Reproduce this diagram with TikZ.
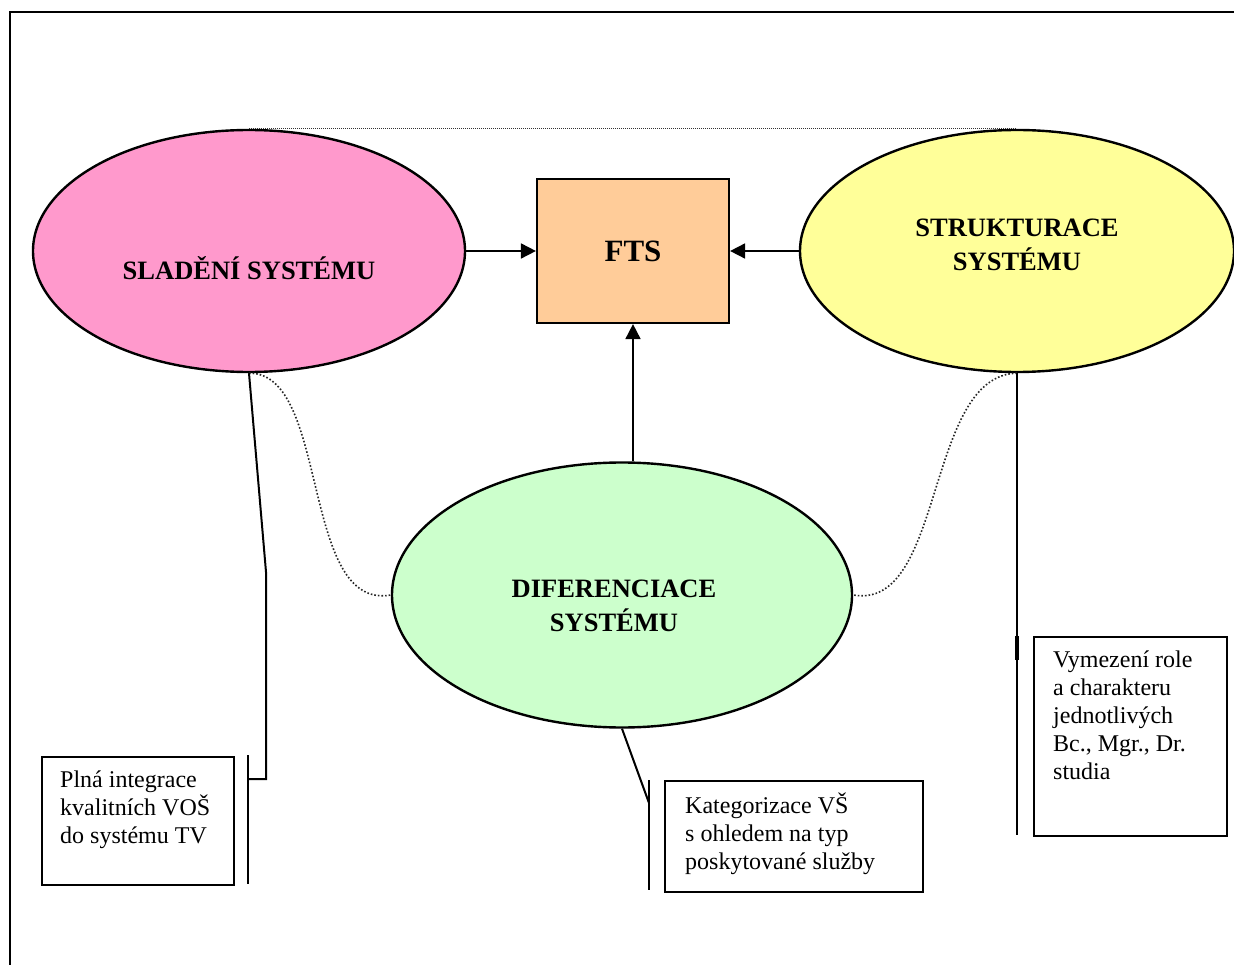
\documentclass[tikz,border=0pt]{standalone}
\usepackage{fontspec}
\setmainfont{Liberation Serif}
\usetikzlibrary{shapes.geometric,arrows.meta}
\definecolor{pinkf}{HTML}{FF99CC}
\definecolor{yellowf}{HTML}{FFFF99}
\definecolor{greenf}{HTML}{CCFFCC}
\definecolor{orangef}{HTML}{FFCC99}
\begin{document}
\begin{tikzpicture}[x=1pt,y=-1pt,
  ell/.style={ellipse,draw,line width=2.4pt,inner sep=0pt},
  ftsbox/.style={rectangle,draw,line width=2.2pt,fill=orangef,inner sep=0pt,minimum width=192,minimum height=144,font=\fontsize{31}{34}\selectfont\bfseries},
  lab/.style={align=center,inner sep=0pt,font=\fontsize{26.5}{34}\selectfont\bfseries},
  cbox/.style={rectangle,draw,line width=1.9pt,inner sep=0pt,anchor=north west},
  ctext/.style={align=left,inner sep=0pt,anchor=north west,font=\fontsize{24}{28}\selectfont},
  lead/.style={line width=2pt},
  dots/.style={dash pattern=on 1.6pt off 2pt,line width=1.6pt,black!85},
  arr/.style={line width=1.8pt,-{Triangle[length=15pt,width=15pt]}}]
\useasboundingbox (0,0) rectangle (1234,965);
\clip (0,0) rectangle (1234,965);
\fill[white] (0,0) rectangle (1234,965);
% frame (right and bottom edges lie outside the picture)
\coordinate (frBL) at (10,1000);
\coordinate (frTL) at (10,12);
\coordinate (frTR) at (1300,12);
\draw[line width=2.8pt] (frBL) -- (frTL) -- (frTR);

% main shapes
\node[ell,fill=pinkf,minimum width=432,minimum height=242] (slad) at (249,251) {};
\node[ell,fill=yellowf,minimum width=434,minimum height=242] (str) at (1017,251) {};
\node[ell,fill=greenf,minimum width=460,minimum height=265] (dif) at (622,595) {};
\node[ftsbox] (fts) at (633,251) {FTS};

\node[lab] (sladT) at (249,268) {SLADĚNÍ SYSTÉMU};
\node[lab] (strT) at (1017,245) {STRUKTURACE\\SYSTÉMU};
\node[lab] (difT) at (614,606) {DIFERENCIACE\\SYSTÉMU};

% dotted links
\draw[dash pattern=on 1pt off 1pt,line width=1.1pt,black!80] (slad.north) -- (str.north);
\draw[dots] (slad.south) .. controls (330,372) and (300,611) .. (dif.west);
\draw[dots] (str.south) .. controls (925,375) and (945,611) .. (dif.east);

% arrows
\draw[arr] (slad.east) -- (fts.west);
\draw[arr] (str.west) -- (fts.east);
\draw[arr] (fts.south |- dif.north) -- (fts.south);

% callout boxes
\node[cbox,minimum width=192,minimum height=128] (boxL) at (41,756) {};
\node[ctext] (txtL) at (60,765) {\rule{0pt}{22pt}Plná integrace\\kvalitních VOŠ\\do systému TV};
\node[cbox,minimum width=258,minimum height=111] (boxM) at (664,780) {};
\node[ctext] (txtM) at (685,791) {\rule{0pt}{22pt}Kategorizace VŠ\\s ohledem na typ\\poskytované služby};
\node[cbox,minimum width=193,minimum height=199] (boxR) at (1033,636) {};
\node[ctext] (txtR) at (1053,645) {\rule{0pt}{22pt}Vymezení role\\a charakteru\\jednotlivých\\Bc., Mgr., Dr.\\studia};

% leaders
\coordinate (lL1) at (266,572);
\coordinate (lL2) at (266,779);
\coordinate (lL3) at (248,779);
\coordinate (bL1) at (248,755);
\coordinate (bL2) at (248,884);
\draw[lead] (slad.south) -- (lL1) -- (lL2) -- (lL3);
\draw[lead] (bL1) -- (bL2);

\coordinate (lM1) at (649,803);
\coordinate (bM1) at (649,780);
\coordinate (bM2) at (649,890);
\draw[lead] (dif.south) -- (lM1);
\draw[lead] (bM1) -- (bM2);

\coordinate (lR1) at (1017,835);
\coordinate (tR1) at (1017,636);
\coordinate (tR2) at (1017,660);
\draw[lead] (str.south) -- (lR1);
\draw[line width=3.8pt] (tR1) -- (tR2);
\end{tikzpicture}
\end{document}
